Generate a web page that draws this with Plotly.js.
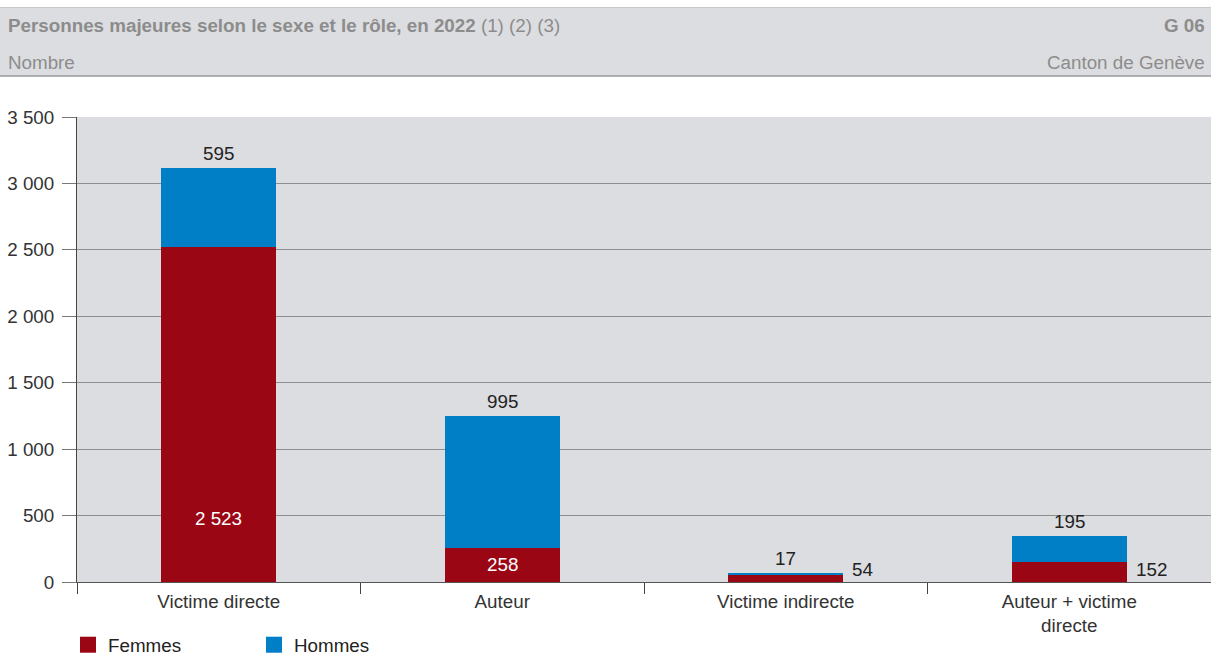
<!DOCTYPE html>
<html><head><meta charset="utf-8">
<script src="https://cdn.plot.ly/plotly-3.0.1.min.js"></script>
<style>html,body{margin:0;padding:0;background:#fff;}#c{width:1211px;height:657px;}</style>
</head><body><div id="c"></div>
<script>
const categories = ["Victime directe", "Auteur", "Victime indirecte", "Auteur + victime<br>directe"];
const femmes = [2523, 258, 54, 152];
const hommes = [595, 995, 17, 195];
const seriesNames = ["Femmes", "Hommes"];
const colors = ["#9b0615", "#007ec6"];
const yTicks = [0, 500, 1000, 1500, 2000, 2500, 3000, 3500];

const W = 1211, H = 657, L = 77, R = 0, T = 117, B = 75;
const pw = W - L - R, ph = H - T - B;
const px = x => (x - L) / pw;
const py = y => (H - B - y) / ph;
const fmt = v => String(v).replace(/\B(?=(\d{3})+(?!\d))/g, " ");
const FONT = "Liberation Sans, Arial, sans-serif";
const FS = 18.8;
const barW = 0.405;

const traces = [
  {type: "bar", name: seriesNames[0], x: categories, y: femmes, marker: {color: colors[0]}, width: barW, hoverinfo: "none", showlegend: false},
  {type: "bar", name: seriesNames[1], x: categories, y: hommes, marker: {color: colors[1]}, width: barW, hoverinfo: "none", showlegend: false},
  {type: "scatter", mode: "markers", name: seriesNames[0], x: [null], y: [null], marker: {symbol: "square", size: 16, color: colors[0]}, showlegend: true},
  {type: "scatter", mode: "markers", name: seriesNames[1], x: [null], y: [null], marker: {symbol: "square", size: 16, color: colors[1]}, showlegend: true}
];

const ann = [];
categories.forEach((c, i) => {
  const f = femmes[i], h = hommes[i];
  ann.push({x: i, y: f + h, xref: "x", yref: "y", text: fmt(h), showarrow: false,
    yanchor: "bottom", yshift: 2, font: {family: FONT, size: FS, color: "#222"}});
  if (f > 200) {
    ann.push({x: i, y: f > 1000 ? 480 : f / 2, xref: "x", yref: "y", text: fmt(f), showarrow: false,
      yanchor: "middle", font: {family: FONT, size: FS, color: "#fff"}});
  } else {
    ann.push({x: i + barW / 2, y: 0, xref: "x", yref: "y", text: fmt(f), showarrow: false,
      xanchor: "left", yanchor: "bottom", xshift: 7, yshift: 0, font: {family: FONT, size: FS, color: "#222"}});
  }
});

ann.push({x: px(6), y: py(26), xref: "paper", yref: "paper", xanchor: "left", yanchor: "middle", showarrow: false,
  text: "<b>Personnes majeures selon le sexe et le rôle, en 2022</b> (1) (2) (3)", font: {family: FONT, size: FS, color: "#8c8c8c"}});
ann.push({x: px(6), y: py(62), xref: "paper", yref: "paper", xanchor: "left", yanchor: "middle", showarrow: false,
  text: "Nombre", font: {family: FONT, size: FS, color: "#8c8c8c"}});
ann.push({x: px(1207), y: py(26), xref: "paper", yref: "paper", xanchor: "right", yanchor: "middle", showarrow: false,
  text: "<b>G 06</b>", font: {family: FONT, size: FS, color: "#8c8c8c"}});
ann.push({x: px(1207), y: py(62), xref: "paper", yref: "paper", xanchor: "right", yanchor: "middle", showarrow: false,
  text: "Canton de Genève", font: {family: FONT, size: FS, color: "#8c8c8c"}});

const shapes = [
  {type: "rect", xref: "paper", yref: "paper", x0: px(0), x1: px(W), y0: py(76), y1: py(8), fillcolor: "#dcdde0", line: {width: 0}, layer: "below"},
  {type: "line", xref: "paper", yref: "paper", x0: px(0), x1: px(W), y0: py(7.5), y1: py(7.5), line: {color: "#c8c8c8", width: 1}},
  {type: "line", xref: "paper", yref: "paper", x0: px(0), x1: px(W), y0: py(76), y1: py(76), line: {color: "#9a9a9a", width: 1.5}}
];

const layout = {
  width: W, height: H,
  margin: {l: L, r: R, t: T, b: B, pad: 0, autoexpand: false},
  barmode: "stack",
  paper_bgcolor: "#fff",
  plot_bgcolor: "#dcdde0",
  font: {family: FONT, size: FS, color: "#333"},
  showlegend: true,
  legend: {orientation: "h", xref: "container", yref: "container", x: 68 / W, y: 1 - 645 / H, xanchor: "left", yanchor: "middle",
    entrywidth: 141, entrywidthmode: "pixels", font: {family: FONT, size: FS, color: "#222"}, traceorder: "normal", itemsizing: "trace"},
  xaxis: {type: "category", showgrid: false, tickson: "boundaries", ticks: "outside", ticklen: 11, tickcolor: "#444",
    showline: true, linecolor: "#555", linewidth: 1, tickfont: {family: FONT, size: FS, color: "#333"}, fixedrange: true,
    ticklabelstandoff: 2, automargin: false},
  yaxis: {range: [0, 3500], tickvals: yTicks, ticktext: yTicks.map(fmt), ticks: "outside", ticklen: 14, tickcolor: "#777",
    gridcolor: "#8f8f8f", gridwidth: 1, showline: true, linecolor: "#444", linewidth: 1, zeroline: false,
    tickfont: {family: FONT, size: FS, color: "#333"}, fixedrange: true, ticklabelstandoff: 4, automargin: false},
  annotations: ann,
  shapes: shapes
};

Plotly.newPlot("c", traces, layout, {displayModeBar: false, staticPlot: true});
</script></body></html>
